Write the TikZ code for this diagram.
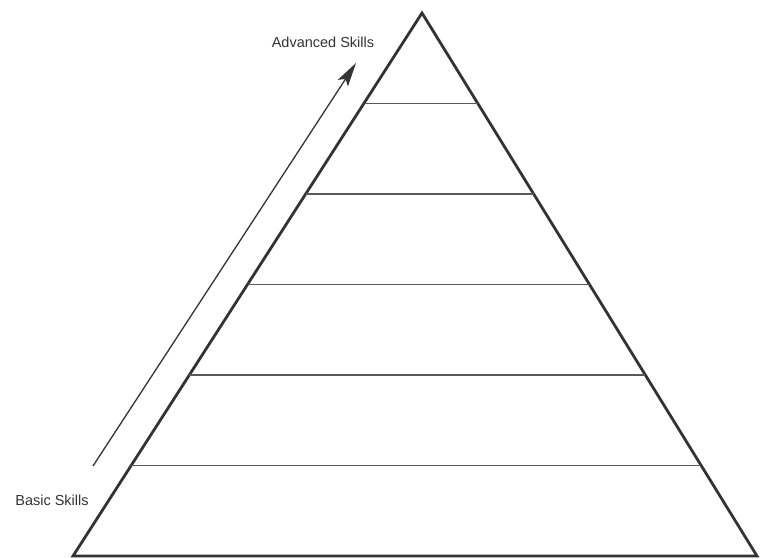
\documentclass[tikz,border=0pt]{standalone}
\usepackage{fontspec}
\setmainfont{Liberation Sans}
\usetikzlibrary{calc,arrows.meta}
\begin{document}
\begin{tikzpicture}[x=1pt,y=-1pt,
  side/.style={draw=black!80,line width=2.8pt,line join=miter},
  level/.style={draw=black!65,line width=1.6pt},
  skill/.style={font=\fontsize{14.5}{16}\selectfont,text=black!80,inner sep=0pt},
  climb/.style={draw=black!80,line width=1.3pt,-{Stealth[length=24pt,width=12pt,inset=5pt]}}]
\useasboundingbox (0,0) rectangle (763,559);
\coordinate (apex) at (422,13);
\coordinate (bl) at (73,556);
\coordinate (br) at (757,556);
\draw[side] (bl) -- (apex) -- (br) -- cycle;
\foreach \k in {1,...,5}{
  \draw[level] ($(apex)!{\k/6}!(bl)$) -- ($(apex)!{\k/6}!(br)$);
}
\coordinate (tail) at (93,466);
\coordinate (tip) at (356,63);
\draw[climb] (tail) -- (tip);
\node[skill] (adv) at (323,42) {Advanced Skills};
\node[skill] (basic) at (52,500) {Basic Skills};
\end{tikzpicture}
\end{document}
